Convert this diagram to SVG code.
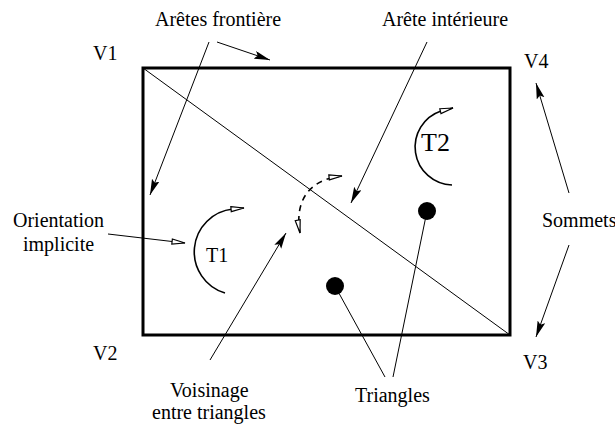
<svg xmlns="http://www.w3.org/2000/svg" width="615" height="424" viewBox="0 0 615 424">
<style>
text { font-family: 'Liberation Serif', 'DejaVu Serif', serif; font-size: 20px; fill: #000; }
.big { font-size: 26px; }
.lead { fill: none; stroke: #000; stroke-width: 1; }
.arc { fill: none; stroke: #000; stroke-width: 1.6; }
.dash { fill: none; stroke: #000; stroke-width: 1.6; stroke-dasharray: 6 5; }
</style>
<defs>
<marker id="solid" markerUnits="userSpaceOnUse" markerWidth="18" markerHeight="10" refX="16" refY="4" orient="auto">
<path d="M0,0 L16,4 L0,8 L3,4 z" fill="#000"/>
</marker>
<marker id="open" markerUnits="userSpaceOnUse" markerWidth="18" markerHeight="10" refX="14" refY="4" orient="auto-start-reverse">
<path d="M1,1.5 L14,4 L1,6.5 z" fill="#fff" stroke="#000" stroke-width="1.2"/>
</marker>
</defs>

<g id="mesh">
<rect x="143" y="68" width="367" height="267" fill="none" stroke="#000" stroke-width="3"/>
<line x1="143" y1="68" x2="510" y2="335" stroke="#000" stroke-width="1"/>
</g>

<g id="T1">
<path class="arc" d="M225,293 A43,43 0 0 1 233,209 L244,208" marker-end="url(#open)"/>
<text x="206" y="262" font-family="Liberation Serif, serif">T1</text>
</g>
<g id="T2">
<path class="arc" d="M452,185 A38,38 0 0 1 441,111 L453,108" marker-end="url(#open)"/>
<text class="big" x="421" y="151" font-family="Liberation Serif, serif">T2</text>
</g>

<g id="dot1"><circle cx="335" cy="286" r="9" fill="#000"/></g>
<g id="dot2"><circle cx="427" cy="211" r="9" fill="#000"/></g>

<g font-family="Liberation Serif, serif">
<g id="V1"><text x="93" y="60">V1</text></g>
<g id="V2"><text x="93" y="360">V2</text></g>
<g id="V3"><text x="523" y="369">V3</text></g>
<g id="V4"><text x="524" y="68">V4</text></g>

<g id="label-aretes-frontiere"><text x="155" y="26">Arêtes frontière</text></g>
<g id="label-arete-interieure"><text x="382" y="26">Arête intérieure</text></g>
<g id="label-sommets"><text x="542" y="227">Sommets</text></g>
<g id="label-orientation"><text x="13" y="227">Orientation</text><text x="23" y="251">implicite</text></g>
<g id="label-voisinage"><text x="170" y="397">Voisinage</text><text x="152" y="419">entre triangles</text></g>
<g id="label-triangles"><text x="355" y="402">Triangles</text></g>
</g>

<g id="connectors">
<line class="lead" x1="217" y1="42" x2="270" y2="60" marker-end="url(#solid)"/>
<line class="lead" x1="209" y1="42" x2="150" y2="195" marker-end="url(#solid)"/>
<line class="lead" x1="427" y1="42" x2="351" y2="203" marker-end="url(#solid)"/>
<line class="lead" x1="569" y1="193" x2="536" y2="83" marker-end="url(#solid)"/>
<line class="lead" x1="569" y1="245" x2="536" y2="337" marker-end="url(#solid)"/>
<line class="lead" x1="210" y1="360" x2="286" y2="233" marker-end="url(#solid)"/>
<line class="lead" x1="108" y1="234" x2="185" y2="243" marker-end="url(#open)"/>
<line class="lead" x1="385" y1="377" x2="335" y2="286"/>
<line class="lead" x1="393" y1="377" x2="427" y2="211"/>
<path class="dash" d="M300,233 C295,205 305,180 342,176" marker-start="url(#open)" marker-end="url(#open)"/>
</g>
</svg>
